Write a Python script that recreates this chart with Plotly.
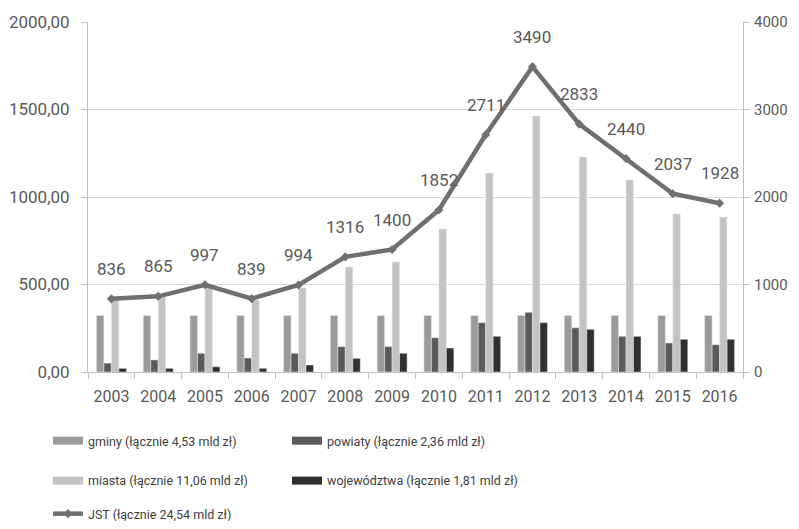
import plotly.graph_objects as go

years = ["2003", "2004", "2005", "2006", "2007", "2008", "2009",
         "2010", "2011", "2012", "2013", "2014", "2015", "2016"]
gminy = [323, 323, 323, 323, 323, 323, 323, 323, 323, 323, 323, 323, 323, 323]
powiaty = [51, 69, 107, 80, 107, 145, 145, 196, 282, 341, 253, 204, 166, 156]
miasta = [411, 430, 486, 411, 480, 600, 629, 817, 1137, 1463, 1229, 1097, 903, 886]
wojewodztwa = [21, 21, 30, 21, 40, 78, 107, 137, 204, 282, 244, 204, 187, 187]
jst = [836, 865, 997, 839, 994, 1316, 1400, 1852, 2711, 3490, 2833, 2440, 2037, 1928]

series = [
    ("gminy (łącznie 4,53 mld zł)", gminy, "#9b9b9b", "legend"),
    ("powiaty (łącznie 2,36 mld zł)", powiaty, "#5a5a5a", "legend"),
    ("miasta (łącznie 11,06 mld zł)", miasta, "#c3c3c3", "legend2"),
    ("województwa (łącznie 1,81 mld zł)", wojewodztwa, "#303030", "legend2"),
]
jst_name = "JST (łącznie 24,54 mld zł)"

FONT = "Roboto, sans-serif"
TXT = "#595959"
LINE_C = "#6f6f6f"

fig = go.Figure()
for name, vals, col, lg in series:
    fig.add_bar(x=years, y=vals, name=name, marker_color=col, showlegend=False)
# legend proxies (wide flat rectangles as in the reference)
for name, vals, col, lg in series:
    fig.add_scatter(x=[None], y=[None], mode="lines", name=name,
                    line=dict(color=col, width=8), legend=lg)
fig.add_scatter(x=years, y=jst, name=jst_name, yaxis="y2", mode="lines+markers",
                line=dict(color=LINE_C, width=4.5),
                marker=dict(symbol="diamond", size=7, color=LINE_C),
                legend="legend3")

for i, yv in enumerate(jst):
    fig.add_annotation(x=i, y=yv, xref="x", yref="y2", text=str(yv), showarrow=False,
                       yshift=30, font=dict(family=FONT, size=17, color=TXT))

legend_common = dict(orientation="h", xanchor="left", yanchor="middle",
                     xref="container", yref="container",
                     font=dict(family=FONT, size=12.5, color="#404040"),
                     entrywidth=194, entrywidthmode="pixels",
                     bgcolor="rgba(0,0,0,0)", traceorder="normal")

# the page body adds an 8px margin on each side; keep the figure inside the window
fig.update_layout(
    width=783, height=513,
    margin=dict(l=80, r=48, t=14, b=149, autoexpand=False),
    paper_bgcolor="white", plot_bgcolor="white",
    separators=", ",
    barmode="group", bargap=0.36, bargroupgap=0,
    showlegend=True,
    legend=dict(x=0.0511, y=0.1559, **legend_common),
    legend2=dict(x=0.0511, y=0.078, **legend_common),
    legend3=dict(x=0.0511, y=0.0136, **legend_common),
    xaxis=dict(
        type="category", range=[-0.5, len(years) - 0.5],
        showline=True, linecolor="#bfbfbf", linewidth=1,
        ticks="outside", tickson="boundaries", ticklen=6, tickcolor="#bfbfbf",
        ticklabelstandoff=10,
        showgrid=False, tickangle=0, tickfont=dict(family=FONT, size=16, color=TXT),
    ),
    yaxis=dict(
        range=[0, 2000], dtick=500, tickformat=".2f",
        showline=True, linecolor="#bfbfbf", linewidth=1,
        ticks="outside", ticklen=6, tickcolor="#bfbfbf", ticklabelstandoff=8,
        showgrid=True, gridcolor="#d9d9d9", gridwidth=1, zeroline=False,
        tickfont=dict(family=FONT, size=17, color=TXT),
    ),
    yaxis2=dict(
        range=[0, 4000], dtick=1000, tickformat="d",
        overlaying="y", side="right",
        showline=True, linecolor="#bfbfbf", linewidth=1,
        ticks="outside", ticklen=5, tickcolor="#bfbfbf", ticklabelstandoff=2,
        showgrid=False, zeroline=False,
        tickfont=dict(family=FONT, size=15, color=TXT),
    ),
)

fig.write_html("out.html")
